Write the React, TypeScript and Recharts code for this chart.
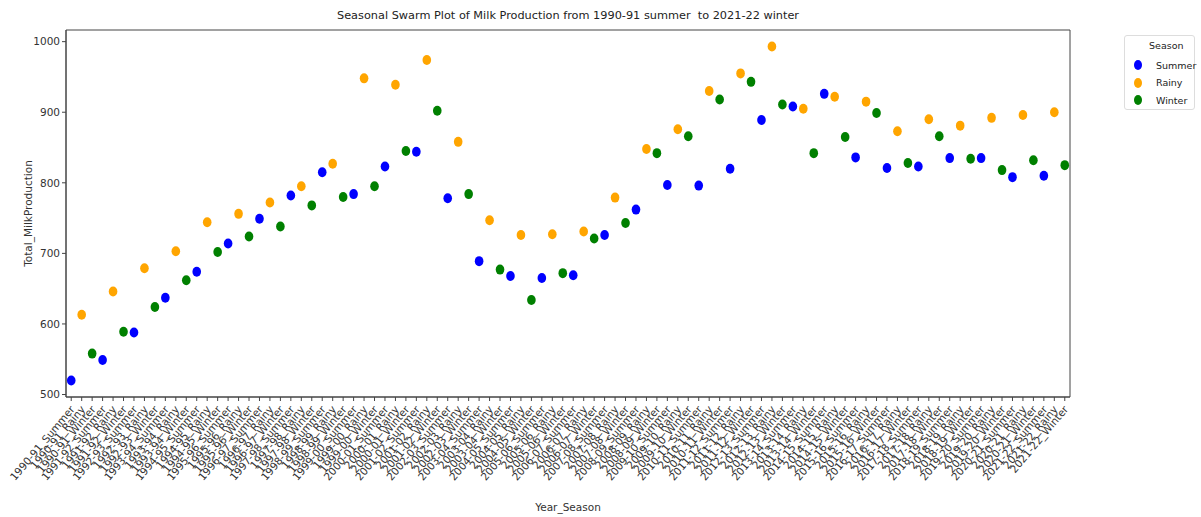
import { ScatterChart, Scatter, XAxis, YAxis, ReferenceArea, Label } from 'recharts';

const years = [
  '1990-91', '1991-92', '1992-93', '1993-94', '1994-95', '1995-96', '1996-97', '1997-98',
  '1998-99', '1999-00', '2000-01', '2001-02', '2002-03', '2003-04', '2004-05', '2005-06',
  '2006-07', '2007-08', '2008-09', '2009-10', '2010-11', '2011-12', '2012-13', '2013-14',
  '2014-15', '2015-16', '2016-17', '2017-18', '2018-19', '2019-20', '2020-21', '2021-22',
];
const seasons = ['Summer', 'Rainy', 'Winter'];

const summer = [520, 549, 588, 637, 674, 714, 749, 782, 815, 784, 823, 844, 778, 689, 668, 665,
  669, 726, 762, 797, 796, 820, 889, 908, 926, 836, 821, 823, 835, 835, 808, 810];
const rainy = [613, 646, 679, 703, 744, 756, 772, 795, 827, 948, 939, 974, 858, 747, 726, 727,
  731, 779, 848, 876, 930, 955, 993, 905, 922, 915, 873, 890, 881, 892, 896, 900];
const winter = [558, 589, 624, 662, 702, 724, 738, 768, 780, 795, 845, 902, 784, 677, 634, 672,
  721, 743, 842, 866, 918, 943, 911, 842, 865, 899, 828, 866, 834, 818, 832, 825];

const yTicks = [500, 600, 700, 800, 900, 1000];

const colors: Record<string, string> = { Summer: '#0000ff', Rainy: '#ffa500', Winter: '#008000' };

const labels = years.flatMap(y => seasons.map(s => `${y}_${s}`));
const xTicks = labels.map((_, i) => i);

const toPoints = (vals: number[], s: number) => vals.map((v, i) => ({ x: i * 3 + s, y: v }));
const summerPts = toPoints(summer, 0);
const rainyPts = toPoints(rainy, 1);
const winterPts = toPoints(winter, 2);

const FONT = '"DejaVu Sans", sans-serif';

const Dot = (props: any) => {
  const { cx, cy, fill } = props;
  return <ellipse cx={cx} cy={cy} rx={4.3} ry={5} fill={fill} />;
};

const RotTick = (props: any) => {
  const { x, y, payload } = props;
  const ax = x + 1;
  const ay = y + 4;
  return (
    <text
      x={ax}
      y={ay}
      transform={`rotate(-50, ${ax}, ${ay})`}
      textAnchor="end"
      dominantBaseline="central"
      fontSize={10.5}
      fontFamily={FONT}
      fill="#333"
    >
      {labels[payload.value]}
    </text>
  );
};

export default function App() {
  return (
    <div style={{ position: 'relative', width: 1201, height: 517, background: '#fff' }}>
      <style>{'body{margin:0}'}</style>
      <div
        style={{
          position: 'absolute', top: 9, left: 66, width: 1004, textAlign: 'center',
          fontFamily: FONT, fontSize: 11.3, color: '#222', whiteSpace: 'pre',
        }}
      >
        {'Seasonal Swarm Plot of Milk Production from 1990-91 summer  to 2021-22 winter'}
      </div>
      <ScatterChart width={1201} height={517} margin={{ top: 30, right: 131, bottom: 6, left: 20 }}>
        <XAxis
          type="number"
          dataKey="x"
          domain={[-0.5, 95.5]}
          ticks={xTicks}
          interval={0}
          height={114}
          tick={<RotTick />}
          tickSize={4}
          tickLine={{ stroke: '#444' }}
          axisLine={{ stroke: '#444' }}
          allowDataOverflow
        >
          <Label value="Year_Season" position="insideBottom" offset={0} fontSize={10.5} fontFamily={FONT} fill="#333" />
        </XAxis>
        <YAxis
          type="number"
          dataKey="y"
          domain={[496.5, 1016.5]}
          ticks={yTicks}
          width={46}
          tickSize={4}
          tickLine={{ stroke: '#444' }}
          axisLine={{ stroke: '#444' }}
          tick={{ fontSize: 10.5, fontFamily: FONT, fill: '#333' }}
          allowDataOverflow
        >
          <Label value="Total_MilkProduction" angle={-90} position="insideLeft" offset={8} fontSize={10.5} fontFamily={FONT} fill="#333" style={{ textAnchor: 'middle' }} />
        </YAxis>
        <ReferenceArea x1={-0.5} x2={95.5} y1={496.5} y2={1016.5} fill="none" stroke="#444" strokeWidth={1} ifOverflow="visible" />
        <Scatter name="Summer" data={summerPts} fill={colors.Summer} shape={<Dot />} isAnimationActive={false} />
        <Scatter name="Rainy" data={rainyPts} fill={colors.Rainy} shape={<Dot />} isAnimationActive={false} />
        <Scatter name="Winter" data={winterPts} fill={colors.Winter} shape={<Dot />} isAnimationActive={false} />
      </ScatterChart>
      <div
        style={{
          position: 'absolute', left: 1124, top: 35, width: 71, height: 75, boxSizing: 'border-box',
          border: '1px solid #ddd', borderRadius: 3, fontFamily: FONT, fontSize: 9.5, color: '#222',
        }}
      >
        <div style={{ position: 'absolute', top: 4, left: 24, lineHeight: '12px' }}>Season</div>
        {seasons.map((s, i) => (
          <div key={s} style={{ position: 'absolute', top: 22 + i * 17.5, left: 0, height: 14, display: 'flex', alignItems: 'center' }}>
            <span style={{ display: 'inline-block', width: 8, height: 10, borderRadius: '50%', background: colors[s], marginLeft: 9, marginRight: 14 }} />
            <span>{s}</span>
          </div>
        ))}
      </div>
    </div>
  );
}
